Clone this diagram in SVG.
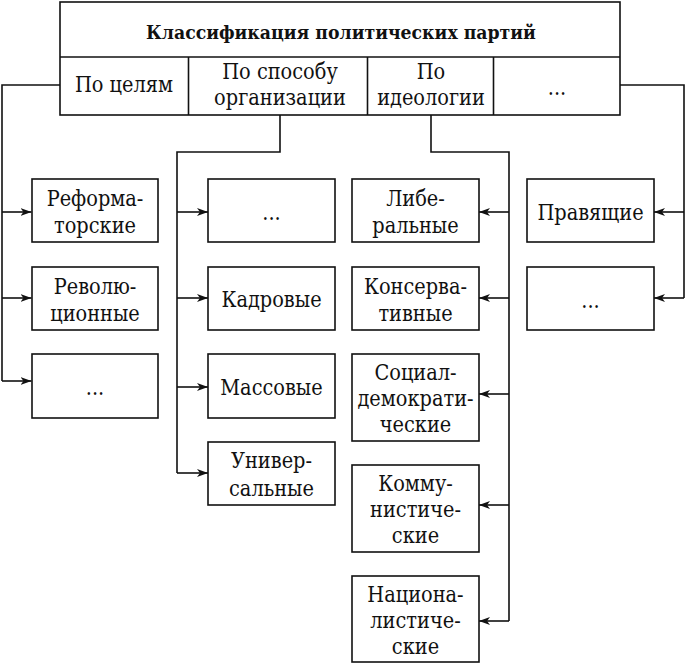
<svg xmlns="http://www.w3.org/2000/svg" width="686" height="664" viewBox="0 0 686 664">
<style>
.b{fill:#fff;stroke:#111;stroke-width:1.6}
.t{font-family:"DejaVu Serif Condensed","DejaVu Serif",serif;font-stretch:condensed;font-size:21.5px;fill:#111;text-anchor:middle}
.h{font-family:"DejaVu Serif Condensed","DejaVu Serif",serif;font-stretch:condensed;font-size:19.2px;font-weight:bold;fill:#111;text-anchor:middle}
.c{fill:none;stroke:#111;stroke-width:1.6}
.a{fill:none;stroke:#111;stroke-width:1.6;marker-end:url(#ar)}
</style>
<defs>
<marker id="ar" markerUnits="userSpaceOnUse" markerWidth="12" markerHeight="8" refX="11" refY="4" orient="auto">
<path d="M0,0 L11,4 L0,8 L3,4 Z" fill="#111"/>
</marker>
</defs>
<rect width="686" height="664" fill="#fff"/>
<g id="connectors">
<path class="c" d="M60,85 H2 V381"/>
<path class="a" d="M2,212 H31.5"/>
<path class="a" d="M2,298 H31.5"/>
<path class="a" d="M2,381 H31.5"/>
<path class="c" d="M280,115 V152 H177 V473"/>
<path class="a" d="M177,212 H208"/>
<path class="a" d="M177,298 H208"/>
<path class="a" d="M177,387 H208"/>
<path class="a" d="M177,473 H208"/>
<path class="c" d="M431,115 V152 H509 V621"/>
<path class="a" d="M509,212 H479"/>
<path class="a" d="M509,298 H479"/>
<path class="a" d="M509,394 H479"/>
<path class="a" d="M509,505 H479"/>
<path class="a" d="M509,621 H479"/>
<path class="c" d="M620,85 H684 V298"/>
<path class="a" d="M684,212 H654"/>
<path class="a" d="M684,298 H654"/>
</g>
<g id="header">
<rect class="b" x="60" y="2" width="560" height="113"/>
<line class="c" x1="60" y1="57" x2="620" y2="57"/>
<line class="c" x1="188.5" y1="57" x2="188.5" y2="115"/>
<line class="c" x1="367.5" y1="57" x2="367.5" y2="115"/>
<line class="c" x1="493.5" y1="57" x2="493.5" y2="115"/>
<text class="h" x="341" y="39">Классификация политических партий</text>
<text class="t" x="124" y="92">По целям</text>
<text class="t" x="280" y="79">По способу</text>
<text class="t" x="280" y="105">организации</text>
<text class="t" x="431" y="79">По</text>
<text class="t" x="431" y="105">идеологии</text>
<text class="t" x="557" y="95">...</text>
</g>
<g id="nodes">
<g id="n-reform"><rect class="b" x="32" y="179" width="126" height="63"/><text class="t" x="95" y="206">Реформа-</text><text class="t" x="95" y="233">торские</text></g>
<g id="n-revol"><rect class="b" x="32" y="267" width="126" height="63"/><text class="t" x="95" y="294">Револю-</text><text class="t" x="95" y="321">ционные</text></g>
<g id="n-goal-etc"><rect class="b" x="32" y="354" width="126" height="64"/><text class="t" x="95" y="395">...</text></g>
<g id="n-org-etc"><rect class="b" x="208" y="179" width="127" height="63"/><text class="t" x="271.5" y="220">...</text></g>
<g id="n-kadr"><rect class="b" x="208" y="267" width="127" height="63"/><text class="t" x="271.5" y="307">Кадровые</text></g>
<g id="n-mass"><rect class="b" x="208" y="354" width="127" height="64"/><text class="t" x="271.5" y="395">Массовые</text></g>
<g id="n-univ"><rect class="b" x="208" y="442" width="127" height="63"/><text class="t" x="271.5" y="468">Универ-</text><text class="t" x="271.5" y="496">сальные</text></g>
<g id="n-liber"><rect class="b" x="352" y="179" width="127" height="63"/><text class="t" x="415.5" y="206">Либе-</text><text class="t" x="415.5" y="233">ральные</text></g>
<g id="n-cons"><rect class="b" x="352" y="267" width="127" height="63"/><text class="t" x="415.5" y="294">Консерва-</text><text class="t" x="415.5" y="321">тивные</text></g>
<g id="n-socdem"><rect class="b" x="352" y="354" width="127" height="87"/><text class="t" x="415.5" y="380">Социал-</text><text class="t" x="415.5" y="406">демократи-</text><text class="t" x="415.5" y="432">ческие</text></g>
<g id="n-comm"><rect class="b" x="352" y="465" width="127" height="87"/><text class="t" x="415.5" y="491">Комму-</text><text class="t" x="415.5" y="517">нистиче-</text><text class="t" x="415.5" y="543">ские</text></g>
<g id="n-nation"><rect class="b" x="352" y="576" width="127" height="86"/><text class="t" x="415.5" y="602">Национа-</text><text class="t" x="415.5" y="628">листиче-</text><text class="t" x="415.5" y="654">ские</text></g>
<g id="n-ruling"><rect class="b" x="527" y="179" width="127" height="63"/><text class="t" x="590.5" y="220">Правящие</text></g>
<g id="n-other-etc"><rect class="b" x="527" y="267" width="127" height="63"/><text class="t" x="590.5" y="308">...</text></g>
</g>
</svg>
